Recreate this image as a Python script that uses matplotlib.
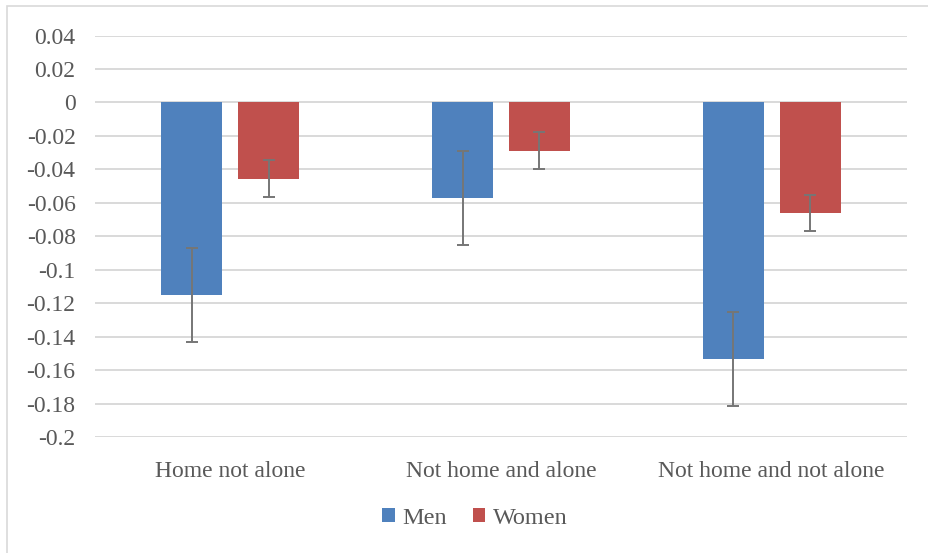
import numpy as np
import matplotlib
matplotlib.use('Agg')
import matplotlib.pyplot as plt
from matplotlib.patches import Rectangle

categories = ['Home not alone', 'Not home and alone', 'Not home and not alone']
men = [-0.115, -0.057, -0.1535]
women = [-0.0457, -0.0288, -0.0661]
men_err = [0.028, 0.028, 0.028]
women_err = [0.011, 0.011, 0.0107]
yticks = [0.04, 0.02, 0, -0.02, -0.04, -0.06, -0.08, -0.1, -0.12, -0.14, -0.16, -0.18, -0.2]

plt.rcParams['font.family'] = ['Liberation Serif', 'DejaVu Serif']

W, H = 929, 553
fig = plt.figure(figsize=(W / 100, H / 100), dpi=100)
fig.patch.set_facecolor('white')
ax = fig.add_axes([95 / W, 1 - 437 / H, (907 - 95) / W, (437 - 35.5) / H])

# outer chart frame
fig.patches.append(Rectangle((7 / W, -0.05), 1.1, 1 - 6 / H + 0.05, transform=fig.transFigure,
                             fill=False, edgecolor='#D9D9D9', linewidth=1.2))

x = np.arange(len(categories))
bw = 0.225
ax.bar(x - 0.142, men, bw, color='#4F81BD', label='Men', zorder=2)
ax.bar(x + 0.142, women, bw, color='#C0504D', label='Women', zorder=2)
ax.errorbar(x - 0.142, men, yerr=men_err, fmt='none', ecolor='#767676', elinewidth=1.4,
            capsize=4.3, capthick=1.4, zorder=3)
ax.errorbar(x + 0.142, women, yerr=women_err, fmt='none', ecolor='#767676', elinewidth=1.4,
            capsize=4.3, capthick=1.4, zorder=3)

ax.set_xlim(-0.5, 2.5)
ax.set_ylim(-0.2, 0.04)
ax.set_yticks(yticks)
ax.set_yticklabels([f'{v:g}' for v in yticks])
ax.yaxis.grid(True, color='#D9D9D9', linewidth=1.4, zorder=0)
ax.set_axisbelow(True)
ax.set_xticks(x)
ax.set_xticklabels(categories)
for s in ax.spines.values():
    s.set_visible(False)
ax.tick_params(axis='both', length=0, labelsize=17, labelcolor='#595959')
ax.tick_params(axis='y', pad=14)
ax.tick_params(axis='x', pad=17)

ax.legend(loc='center', bbox_to_anchor=(475 / W, 1 - 518 / H), bbox_transform=fig.transFigure,
          ncol=2, frameon=False, fontsize=17.5, handlelength=0.5, handleheight=0.5,
          handletextpad=0.3, columnspacing=1.1, labelcolor='#595959')

fig.savefig('out.png', dpi=100)
